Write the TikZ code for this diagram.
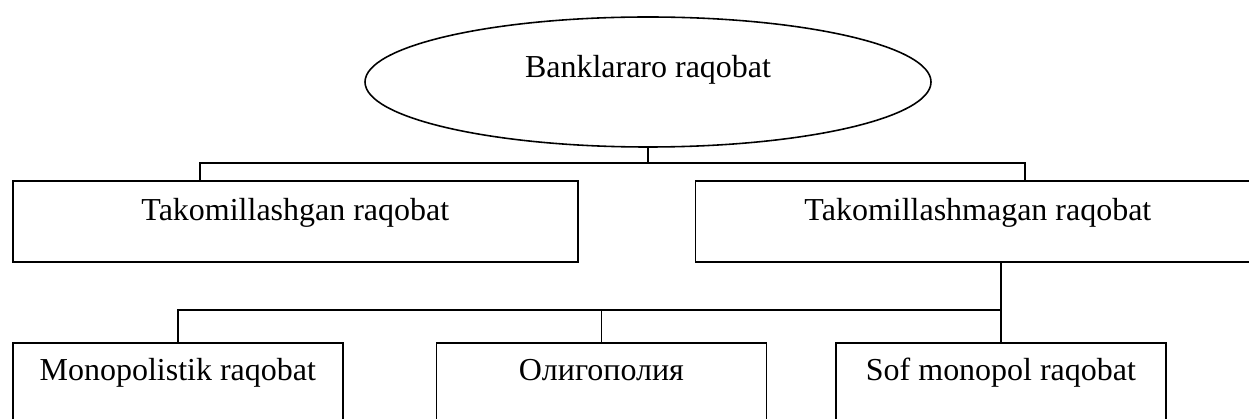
\documentclass[tikz,border=0pt]{standalone}
\usepackage{fontspec}
\setmainfont{Liberation Serif}
\usepackage{tikz}
\usetikzlibrary{positioning,shapes.geometric}
\tikzset{
    every picture/.style={
        line width=0.9pt,
        transform shape=false
    },
    % Node styles
    topnode/.style={ellipse,draw=black,inner sep=0pt,minimum width=11.32cm,minimum height=2.6cm,text height=0.46cm,text depth=0.62cm},
    kindbox/.style={rectangle,draw=black,inner sep=0pt,minimum width=11.3cm,text height=0.8cm,text depth=0.82cm},
    formbox/.style={rectangle,draw=black,inner sep=0pt,minimum width=6.6cm,text height=0.76cm,text depth=0.82cm}
}

\begin{document}
\begin{tikzpicture}[font=\fontsize{18.2}{22}\selectfont,
    link/.style={draw=black,line width=0.9pt}
]
  \useasboundingbox (0,0) rectangle (24.98,-8.38);

  % Top node
  \node[topnode] (bank) at (12.96,-1.64) {Banklararo raqobat};

  % Kinds of competition
  \node[kindbox,anchor=north west] (tak) at (0.24,-3.6) {Takomillashgan raqobat};
  \node[kindbox,right=2.32cm of tak] (takm) {Takomillashmagan raqobat};

  % Market forms
  \node[formbox,anchor=north west] (mono) at (0.24,-6.84) {Monopolistik raqobat};
  \node[formbox,right=1.84cm of mono] (oligo) {Олигополия};
  \node[formbox,right=1.36cm of oligo] (sof) {Sof monopol raqobat};

  % Junctions
  \coordinate (jl) at (4.0,-3.26);
  \coordinate (jr) at (20.5,-3.26);
  \coordinate (jb) at (0,-6.2);

  % Upper links
  \draw[link] (bank.south) -- (bank.south |- jl);
  \draw[link] (jl |- tak.north) -- (jl) -- (jr) -- (jr |- takm.north);

  % Lower links
  \draw[link] (takm.south -| sof.north) -- (sof.north);
  \draw[link] (mono.north) -- (mono.north |- jb) -- (sof.north |- jb);
  \draw[link] (oligo.north) -- (oligo.north |- jb);
\end{tikzpicture}
\end{document}
